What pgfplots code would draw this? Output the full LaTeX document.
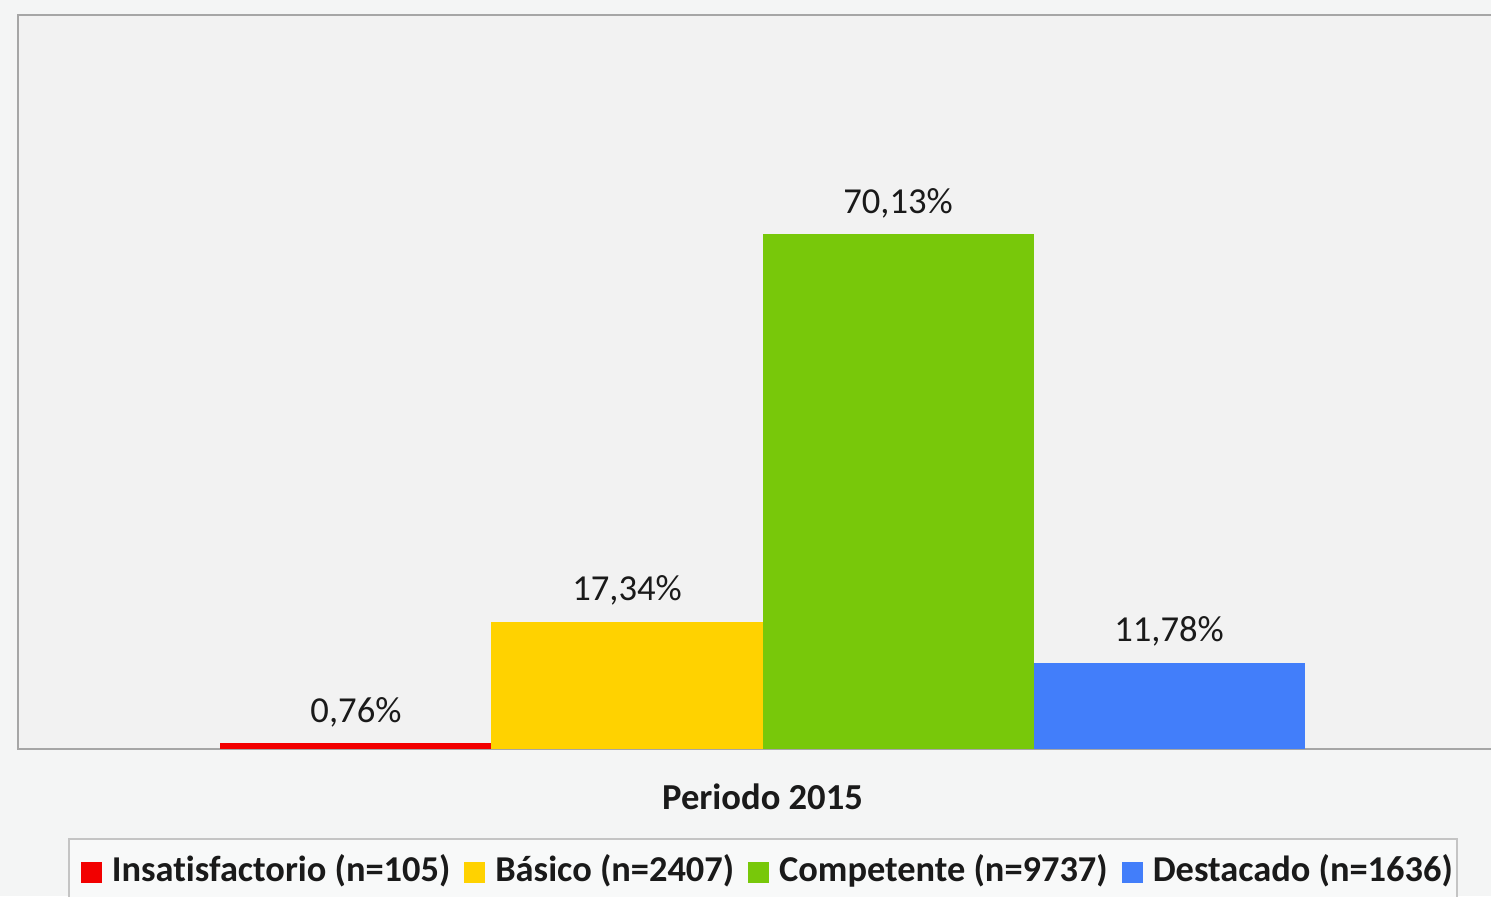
\documentclass[border=0pt]{standalone}
\usepackage{fontspec}
\setmainfont{Carlito}[Ligatures=NoCommon]
\usepackage{pgfplots}
\pgfplotsset{compat=1.18}
\definecolor{outerbg}{HTML}{F4F5F5}
\definecolor{plotbg}{HTML}{F2F2F2}
\definecolor{frame}{HTML}{A6A6A6}
\definecolor{cred}{HTML}{F20000}
\definecolor{cyellow}{HTML}{FFD200}
\definecolor{cgreen}{HTML}{78C80A}
\definecolor{cblue}{HTML}{427EFA}
\definecolor{legframe}{HTML}{C4C4C4}
\definecolor{txt}{HTML}{1A1A1A}
\pgfplotsset{sqleg/.style={legend image code/.code={\path (-4pt,0pt); \fill[##1] (0pt,-6.5pt) rectangle (10.5pt,4pt);}}}
\begin{document}
\begin{tikzpicture}
\fill[outerbg] (0,0) rectangle (745.5pt,448pt);
\begin{scope}
\clip (0,0) rectangle (745.5pt,448pt);
\begin{axis}[
  at={(9pt,73.5pt)}, anchor=south west,
  scale only axis, width=744.5pt, height=367pt,
  xmin=-2.747, xmax=2.747, ymin=0, ymax=100,
  ybar, bar width=1, bar shift=0pt,
  axis background/.style={fill=plotbg},
  axis line style={draw=frame, line width=1pt},
  ytick=\empty, xtick={0}, xticklabels={\textbf{Periodo 2015}},
  major tick length=0pt,
  xticklabel style={anchor=center, yshift=-24pt, font=\fontsize{18.3}{22}\selectfont, text=txt},
  /pgf/number format/fixed, /pgf/number format/fixed zerofill,
  /pgf/number format/precision=2, /pgf/number format/use comma,
  /pgf/number format/assume math mode=true,
  nodes near coords={\pgfmathprintnumber{\pgfplotspointmeta}\%},
  nodes near coords style={anchor=base, inner sep=0pt, yshift=10.5pt, font=\fontsize{18.3}{22}\selectfont, text=txt},
  legend columns=4,
  legend style={at={(axis description cs:0.0336,0)}, anchor=north west, yshift=-44.5pt,
    draw=legframe, line width=0.8pt, fill=outerbg!60!white,
    font=\bfseries\fontsize{18.2}{22}\selectfont, text=txt,
    inner xsep=2pt, inner ysep=6pt, nodes={inner xsep=0pt},
    column sep=5pt, /tikz/every even column/.append style={column sep=3pt}},
]
\addplot[fill=cred, draw=none, sqleg] coordinates {(-1.5,0.76)};
\addplot[fill=cyellow, draw=none, sqleg] coordinates {(-0.5,17.34)};
\addplot[fill=cgreen, draw=none, sqleg] coordinates {(0.5,70.13)};
\addplot[fill=cblue, draw=none, sqleg] coordinates {(1.5,11.78)};
\legend{Insatisfactorio (n=105), Básico (n=2407), Competente (n=9737), Destacado (n=1636)}
\end{axis}
\end{scope}
\pgfresetboundingbox
\useasboundingbox (0,0) rectangle (745.5pt,448pt);
\end{tikzpicture}
\end{document}
